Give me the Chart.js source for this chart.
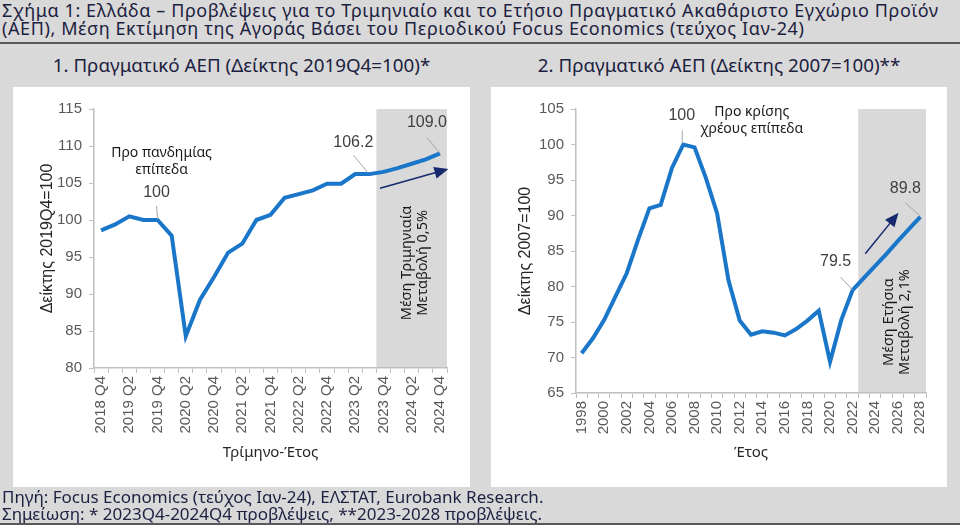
<!DOCTYPE html>
<html lang="el">
<head>
<meta charset="utf-8">
<title>ΑΕΠ Ελλάδας</title>
<script src="https://cdn.jsdelivr.net/npm/chart.js@4.4.1/dist/chart.umd.min.js"></script>
<style>
  html, body { margin: 0; padding: 0; }
  body { width: 960px; height: 525px; background: #d9d9d9; position: relative; overflow: hidden;
         font-family: "Noto Sans", "DejaVu Sans", sans-serif; color: #1c2140; }
  #titlos { position: absolute; left: 2px; top: 1px; font-size: 18px; line-height: 18px; letter-spacing: 0.6px; white-space: nowrap; }
  .rule { position: absolute; left: 0; width: 960px; height: 2px; background: #595959; }
  .sub { position: absolute; top: 55px; font-size: 18.8px; line-height: 20px; text-align: center; white-space: nowrap; }
  .panel { position: absolute; top: 87px; height: 400px; background: #fff; }
  .panel canvas { position: absolute; left: 0; top: 0; }
  #pigi { position: absolute; left: 2px; top: 488px; font-size: 17px; line-height: 17px; white-space: nowrap; }
</style>
</head>
<body>
<div id="titlos">Σχήμα 1: Ελλάδα – Προβλέψεις για το Τριμηνιαίο και το Ετήσιο Πραγματικό Ακαθάριστο Εγχώριο Προϊόν<br>(ΑΕΠ), Μέση Εκτίμηση της Αγοράς Βάσει του Περιοδικού Focus Economics (τεύχος Ιαν-24)</div>
<div class="rule" style="top:42px"></div>
<div class="sub" style="left:13px;width:457px">1. Πραγματικό ΑΕΠ (Δείκτης 2019Q4=100)*</div>
<div class="sub" style="left:491px;width:456px">2. Πραγματικό ΑΕΠ (Δείκτης 2007=100)**</div>
<div class="panel" style="left:13px;width:457px"><canvas id="grafima1" width="457" height="400"></canvas></div>
<div class="panel" style="left:491px;width:456px"><canvas id="grafima2" width="456" height="400"></canvas></div>
<div id="pigi">Πηγή: Focus Economics (τεύχος Ιαν-24), ΕΛΣΤΑΤ, Eurobank Research.<br>Σημείωση: * 2023Q4-2024Q4 προβλέψεις, **2023-2028 προβλέψεις.</div>
<div class="rule" style="top:523px"></div>

<script>
// Δεδομένα - τριμηνιαίο ΑΕΠ (2019Q4=100)
const quarters = ['2018 Q4', '2019 Q1', '2019 Q2', '2019 Q3', '2019 Q4', '2020 Q1', '2020 Q2', '2020 Q3', '2020 Q4',
    '2021 Q1', '2021 Q2', '2021 Q3', '2021 Q4', '2022 Q1', '2022 Q2', '2022 Q3', '2022 Q4',
    '2023 Q1', '2023 Q2', '2023 Q3', '2023 Q4', '2024 Q1', '2024 Q2', '2024 Q3', '2024 Q4'];
const gdpQuarterly = [98.6, 99.4, 100.5, 100.0, 100.0, 97.9, 84.3, 89.2, 92.3, 95.6, 96.8, 100.0, 100.7,
    103.0, 103.5, 104.0, 104.9, 104.9, 106.2, 106.2, 106.5, 107.0, 107.6, 108.2, 109.0];

// Δεδομένα - ετήσιο ΑΕΠ (2007=100)
const years = ['1998', '1999', '2000', '2001', '2002', '2003', '2004', '2005', '2006', '2007', '2008', '2009',
    '2010', '2011', '2012', '2013', '2014', '2015', '2016', '2017', '2018', '2019', '2020', '2021',
    '2022', '2023', '2024', '2025', '2026', '2027', '2028'];
const gdpAnnual = [70.6, 72.7, 75.3, 78.6, 81.9, 86.6, 91.0, 91.5, 96.7, 100.0, 99.6, 95.3, 90.3, 80.9,
    75.2, 73.2, 73.7, 73.5, 73.1, 74.0, 75.2, 76.6, 69.4, 75.3, 79.5, 81.2, 82.9, 84.6, 86.4, 88.1, 89.8];

const yTicks1 = { min: 80, max: 115, step: 5 };
const yTicks2 = { min: 65, max: 105, step: 5 };

const lineBlue = '#1a76c9';
const axisGrey = '#bfbfbf';
const arrowNavy = '#16296e';
const tickFont = { family: '"Liberation Sans", Arial, sans-serif', size: 15 };

// plugin για σκίαση προβλέψεων, σημειώσεις και βέλη
const notesPlugin = {
    id: 'notes',
    beforeDraw(chart, args, opts) {
        const { ctx, chartArea } = chart;
        const x0 = chart.scales.x.getPixelForValue(opts.shadeFrom - 0.5);
        ctx.save();
        ctx.fillStyle = '#d9d9d9';
        ctx.fillRect(x0, chartArea.top, chartArea.right - x0, chartArea.bottom - chartArea.top);
        ctx.restore();
    },
    afterDatasetsDraw(chart, args, opts) {
        const { ctx } = chart;
        const xs = chart.scales.x, ys = chart.scales.y;
        const data = chart.data.datasets[0].data;
        const at = (i, v) => ({ x: xs.getPixelForValue(i), y: ys.getPixelForValue(v) });
        ctx.save();
        ctx.textAlign = 'center';
        ctx.textBaseline = 'middle';

        // τιμές με γραμμή οδηγό
        opts.values.forEach(n => {
            const p = at(n.i, data[n.i]);
            ctx.strokeStyle = '#a6a6a6';
            ctx.lineWidth = 1;
            ctx.beginPath();
            ctx.moveTo(p.x + n.from[0], p.y + n.from[1]);
            ctx.lineTo(p.x + n.to[0], p.y + n.to[1]);
            ctx.stroke();
            ctx.fillStyle = '#404040';
            ctx.font = '16px "Liberation Sans", Arial, sans-serif';
            ctx.fillText(n.text, p.x + n.dx, p.y + n.dy);
        });

        // κείμενο επιπέδων
        const t = opts.level;
        const p = at(t.i, data[t.i]);
        ctx.fillStyle = '#1a1a1a';
        ctx.font = '14px "Noto Sans", sans-serif';
        t.lines.forEach((line, k) => ctx.fillText(line, p.x + t.dx, p.y + t.dy + k * 17));

        // βέλος
        const a = opts.arrow;
        const s = at(a.from[0], a.from[1]), e = at(a.to[0], a.to[1]);
        const ang = Math.atan2(e.y - s.y, e.x - s.x);
        const head = 14;
        ctx.strokeStyle = arrowNavy;
        ctx.fillStyle = arrowNavy;
        ctx.lineWidth = 1.5;
        ctx.beginPath();
        ctx.moveTo(s.x, s.y);
        ctx.lineTo(e.x - head * 0.8 * Math.cos(ang), e.y - head * 0.8 * Math.sin(ang));
        ctx.stroke();
        ctx.beginPath();
        ctx.moveTo(e.x, e.y);
        ctx.lineTo(e.x - head * Math.cos(ang) + 6 * Math.sin(ang), e.y - head * Math.sin(ang) - 6 * Math.cos(ang));
        ctx.lineTo(e.x - head * Math.cos(ang) - 6 * Math.sin(ang), e.y - head * Math.sin(ang) + 6 * Math.cos(ang));
        ctx.closePath();
        ctx.fill();

        // περιστραμμένο κείμενο μέσης μεταβολής
        const r = opts.rotated;
        const c = at(r.i, r.v);
        ctx.translate(c.x, c.y);
        ctx.rotate(-Math.PI / 2);
        ctx.fillStyle = '#1a1a1a';
        ctx.font = '14.5px "Noto Sans", sans-serif';
        ctx.fillText(r.lines[0], 0, -8);
        ctx.fillText(r.lines[1], 0, 8);
        ctx.restore();
    }
};

function makeChart(canvasId, labels, values, yRange, cfg) {
    return new Chart(document.getElementById(canvasId), {
        type: 'line',
        data: {
            labels: labels,
            datasets: [{
                data: values,
                borderColor: lineBlue,
                borderWidth: 4,
                pointRadius: 0,
                tension: 0,
                fill: false
            }]
        },
        options: {
            responsive: false,
            animation: false,
            layout: { padding: { left: 0, right: cfg.padRight, top: 22, bottom: 0 } },
            plugins: {
                legend: { display: false },
                tooltip: { enabled: false },
                notes: cfg.notes
            },
            scales: {
                x: {
                    offset: true,
                    grid: { offset: true, drawOnChartArea: false, tickLength: 5, color: axisGrey, lineWidth: 1 },
                    border: { color: axisGrey, width: 1.5 },
                    ticks: {
                        autoSkip: false,
                        minRotation: 90,
                        maxRotation: 90,
                        padding: 3,
                        color: '#595959',
                        font: tickFont,
                        callback: (v, i) => (i % 2 === 0 ? labels[i] : '')
                    },
                    title: {
                        display: true,
                        text: cfg.xTitle,
                        color: '#262626',
                        font: { family: '"Noto Sans", sans-serif', size: 15 },
                        padding: { top: 0, bottom: 25 }
                    },
                    afterFit: s => { s.height = cfg.xHeight; }
                },
                y: {
                    min: yRange.min,
                    max: yRange.max,
                    grid: { drawOnChartArea: false, tickLength: 5, color: axisGrey },
                    border: { color: axisGrey, width: 1.5 },
                    ticks: { stepSize: yRange.step, padding: 7, color: '#595959', font: tickFont },
                    title: {
                        display: true,
                        text: cfg.yTitle,
                        color: '#262626',
                        font: { family: '"Liberation Sans", Arial, sans-serif', size: 16 },
                        padding: { top: 25, bottom: 0 }
                    },
                    afterFit: s => { s.width = cfg.yWidth; }
                }
            }
        },
        plugins: [notesPlugin]
    });
}

const grafima1 = makeChart('grafima1', quarters, gdpQuarterly, yTicks1, {
    padRight: 23, xHeight: 119, yWidth: 81,
    xTitle: 'Τρίμηνο-Έτος', yTitle: 'Δείκτης 2019Q4=100',
    notes: {
        shadeFrom: 20,
        values: [
            { i: 4, text: '100', dx: -1, dy: -27, from: [-1, -14], to: [0, -1] },
            { i: 19, text: '106.2', dx: -16, dy: -32, from: [-16, -19], to: [-1, -1] },
            { i: 24, text: '109.0', dx: -13, dy: -31, from: [-13, -16], to: [0, 0] }
        ],
        level: { i: 4, lines: ['Προ πανδημίας', 'επίπεδα'], dx: 4, dy: -67 },
        arrow: { from: [19.76, 104.3], to: [24.6, 106.9] },
        rotated: { i: 22.24, v: 94.2, lines: ['Μέση Τριμηνιαία', 'Μεταβολή 0,5%'] }
    }
});

const grafima2 = makeChart('grafima2', years, gdpAnnual, yTicks2, {
    padRight: 21, xHeight: 94, yWidth: 85,
    xTitle: 'Έτος', yTitle: 'Δείκτης 2007=100',
    notes: {
        shadeFrom: 25,
        values: [
            { i: 9, text: '100', dx: -1.5, dy: -28.5, from: [-1, -14], to: [-1, -1] },
            { i: 24, text: '79.5', dx: -17, dy: -28, from: [-12, -13], to: [0, 0] },
            { i: 30, text: '89.8', dx: -15, dy: -28, from: [-15, -14], to: [0, -1] }
        ],
        level: { i: 9, lines: ['Προ κρίσης', 'χρέους επίπεδα'], dx: 68.5, dy: -32.5 },
        arrow: { from: [25.12, 84.6], to: [28.07, 90.4] },
        rotated: { i: 27.96, v: 75.0, lines: ['Μέση Ετήσια', 'Μεταβολή 2,1%'] }
    }
});
</script>
</body>
</html>
